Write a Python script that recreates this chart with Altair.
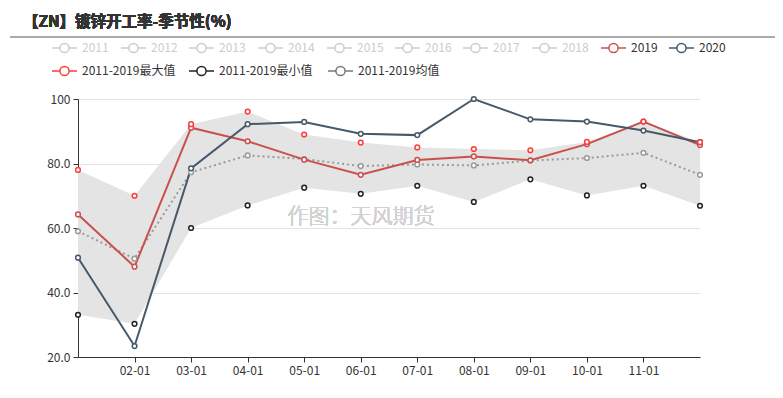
import altair as alt
import pandas as pd

months = ["01-01", "02-01", "03-01", "04-01", "05-01", "06-01",
          "07-01", "08-01", "09-01", "10-01", "11-01", "12-01"]
s2019 = [64.2, 48.0, 91.1, 86.9, 81.2, 76.5, 81.1, 82.2, 81.0, 86.0, 93.0, 85.7]
s2020 = [50.8, 23.4, 78.5, 92.2, 92.9, 89.2, 88.8, 100.0, 93.7, 93.0, 90.2, 86.6]
vmax = [78.0, 70.0, 92.2, 96.1, 89.0, 86.5, 85.0, 84.5, 84.1, 86.7, 93.0, 86.6]
vmin = [33.1, 30.3, 60.0, 67.0, 72.5, 70.6, 73.1, 68.1, 75.1, 70.1, 73.1, 66.9]
vmean = [59.0, 50.5, 77.3, 82.5, 81.4, 79.2, 79.7, 79.4, 80.9, 81.7, 83.3, 76.5]

legend_labels = ["2011", "2012", "2013", "2014", "2015", "2016", "2017", "2018",
                 "2019", "2020", "2011-2019最大值", "2011-2019最小值", "2011-2019均值"]

FONT = "Noto Sans CJK SC"
C2019 = "#c9504c"
C2020 = "#46596a"
CMAX = "#ff3b3b"
CMIN = "#222222"
CMEAN = "#9a9a9a"

band = pd.DataFrame({"month": months, "vmin": vmin, "vmax": vmax})
rows = []
for name, vals in [("2019", s2019), ("2020", s2020), ("max", vmax), ("min", vmin), ("mean", vmean)]:
    for m, v in zip(months, vals):
        rows.append({"month": m, "series": name, "value": v})
long = pd.DataFrame(rows)

xenc = alt.X("month:O", scale=alt.Scale(type="point", padding=0), title=None,
             axis=alt.Axis(values=months[1:11], labelAngle=0, labelFontSize=12, labelColor="#333",
                           labelFont=FONT, domainColor="#333", tickColor="#333", tickSize=5,
                           grid=False, labelPadding=3))
yenc_axis = alt.Axis(values=[20, 40, 60, 80, 100], labelExpr="datum.value == 100 ? '100' : format(datum.value, '.1f')",
                     labelFontSize=12, labelColor="#333", labelFont=FONT, domainColor="#333",
                     tickColor="#333", tickSize=5, gridColor="#e3e3e3", labelPadding=3)
yscale = alt.Scale(domain=[20, 100], nice=False, zero=False)

area = alt.Chart(band).mark_area(color="#e4e4e4", opacity=1).encode(
    x=xenc,
    y=alt.Y("vmin:Q", scale=yscale, axis=yenc_axis, title=None),
    y2="vmax:Q",
)

def line(series, color, dash=None, width=2):
    kw = dict(color=color, strokeWidth=width)
    if dash:
        kw["strokeDash"] = dash
    return alt.Chart(long).transform_filter(alt.datum.series == series).mark_line(**kw).encode(
        x="month:O", y=alt.Y("value:Q", scale=yscale))

def points(series, color):
    return alt.Chart(long).transform_filter(alt.datum.series == series).mark_point(
        filled=False, fill="white", fillOpacity=1, stroke=color, strokeWidth=1.5, size=22, opacity=1
    ).encode(x="month:O", y=alt.Y("value:Q", scale=yscale))

watermark = alt.Chart(band).mark_text(text="作图：天风期货", font=FONT, fontSize=21, fontWeight=300,
                                      color="#d2d2d2", align="center", baseline="middle").encode(
    x=alt.value(283), y=alt.value(118))

main = alt.layer(
    area,
    line("mean", CMEAN, dash=[2, 3], width=2),
    line("2019", C2019),
    line("2020", C2020),
    points("mean", CMEAN),
    points("2019", C2019),
    points("2020", C2020),
    points("max", CMAX),
    points("min", CMIN),
    watermark,
)

# legend (drawn as marks, laid out like the original)
starts1 = [52, 121, 189, 258, 327, 395, 463, 532, 601, 669]
starts2 = [52, 189, 328]
icon_colors = ["#cccccc"] * 8 + [C2019, C2020, CMAX, CMIN, "#777777"]
text_colors = ["#cccccc"] * 8 + ["#333333"] * 5
leg_rows = []
for i, lab in enumerate(legend_labels):
    if i < 10:
        sx, py = starts1[i], 48
    else:
        sx, py = starts2[i - 10], 71
    leg_rows.append({"label": lab, "x0": sx - 78, "x1": sx - 78 + 25, "cx": sx - 78 + 12.5,
                     "tx": sx - 78 + 30, "y": py - 99, "ic": icon_colors[i], "tc": text_colors[i]})
leg = pd.DataFrame(leg_rows)

leg_line = alt.Chart(leg).mark_rule(strokeWidth=1.5).encode(
    x=alt.X("x0:Q", scale=None, axis=None), x2="x1:Q",
    y=alt.Y("y:Q", scale=None, axis=None), color=alt.Color("ic:N", scale=None, legend=None))
leg_circle = alt.Chart(leg).mark_point(filled=False, fill="white", fillOpacity=1, size=85, strokeWidth=1.5, opacity=1).encode(
    x=alt.X("cx:Q", scale=None, axis=None), y=alt.Y("y:Q", scale=None, axis=None),
    stroke=alt.Color("ic:N", scale=None, legend=None))
leg_text = alt.Chart(leg).mark_text(font=FONT, fontSize=12, align="left", baseline="middle").encode(
    x=alt.X("tx:Q", scale=None, axis=None), y=alt.Y("y:Q", scale=None, axis=None),
    text="label:N", color=alt.Color("tc:N", scale=None, legend=None))

title = alt.Chart(band).mark_text(text="【ZN】镀锌开工率-季节性(%)", font=FONT, fontSize=15.5, fontWeight="bold",
                                  color="#333333", align="left", baseline="middle").encode(
    x=alt.value(25 - 78 - 2), y=alt.value(22 - 99))
sep = alt.Chart(band).mark_rule(color="#aaaaaa", strokeWidth=1).encode(
    x=alt.value(10 - 78), x2=alt.value(775 - 78), y=alt.value(37 - 99))

legend_layer = alt.layer(leg_line, leg_circle, leg_text, title, sep)

chart = alt.layer(main, legend_layer).resolve_scale(x="independent", y="independent").properties(
    width=622, height=258,
    autosize=alt.AutoSizeParams(type="none"),
    padding={"left": 70, "top": 91, "right": 75, "bottom": 25},
).configure_view(stroke=None)

chart.save("out.html", embed_options={"renderer": "svg", "actions": False})
